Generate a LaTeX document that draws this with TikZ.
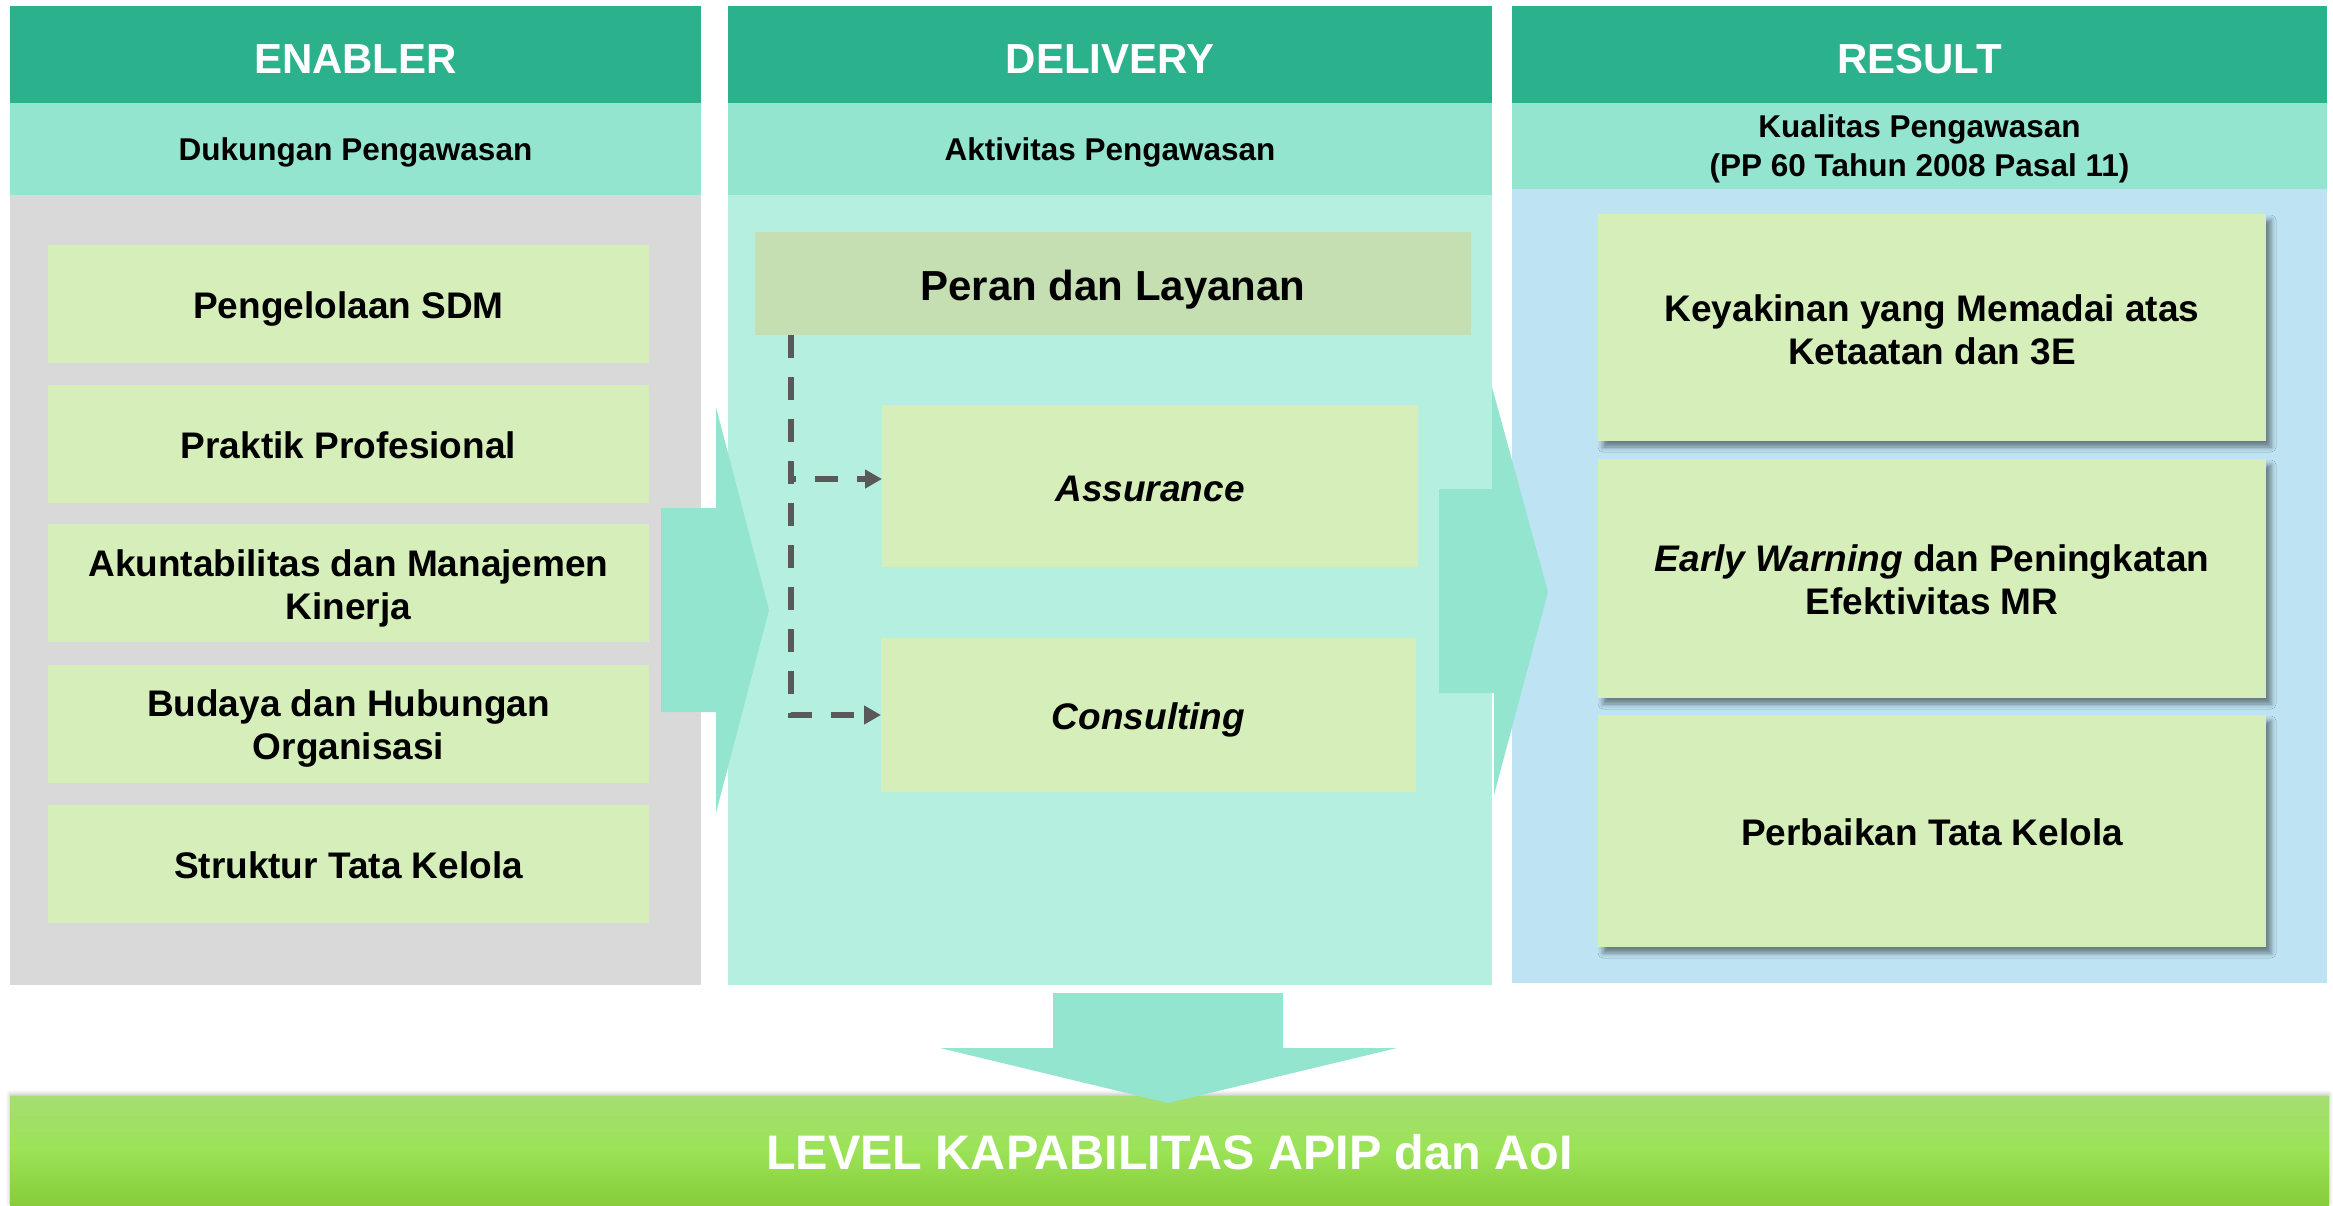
\documentclass[tikz,border=0pt]{standalone}
\usepackage{fontspec}
\setmainfont{Liberation Sans}
\usetikzlibrary{arrows.meta,shadows,shadows.blur,calc}
\definecolor{hdrteal}{HTML}{2BB18B}
\definecolor{subteal}{HTML}{93E5CF}
\definecolor{graybg}{HTML}{D9D9D9}
\definecolor{delbg}{HTML}{B5EFE0}
\definecolor{resbg}{HTML}{BEE3F3}
\definecolor{boxgreen}{HTML}{D6EFBA}
\definecolor{perangreen}{HTML}{C5DFB3}
\definecolor{arrteal}{HTML}{93E5CF}
\definecolor{dashgray}{HTML}{595959}
\definecolor{barTopC}{HTML}{A5DE72}
\definecolor{barMidC}{HTML}{9BE356}
\definecolor{barBotC}{HTML}{86CC3B}
\newcommand\hdrfont{\fontsize{42}{50}\selectfont\bfseries}
\newcommand\subfont{\fontsize{31.5}{39}\selectfont\bfseries}
\newcommand\boxfont{\fontsize{37}{43}\selectfont\bfseries}
\newcommand\peranfont{\fontsize{42}{50}\selectfont\bfseries}
\newcommand\barfont{\fontsize{48.5}{56}\selectfont\bfseries}
% struts that centre a line box like a slide program does (ascent .905em, descent .212em)
\newcommand\pptop[1][0pt]{\rule{0pt}{\dimexpr0.905em+#1*2\relax}}
\newcommand\ppbot{\rule[-0.212em]{0pt}{0.212em}}
\begin{document}
\begin{tikzpicture}[x=1pt,y=-1pt,
  blk/.style={inner sep=0pt,outer sep=0pt,draw=none,align=center},
  hdr/.style={blk,fill=hdrteal,text=white,font=\hdrfont},
  subh/.style={blk,fill=subteal,text=black,font=\subfont},
  lbox/.style={blk,fill=boxgreen,minimum width=601pt,minimum height=118pt,font=\boxfont},
  rbox/.style={blk,fill=boxgreen,minimum width=668pt,font=\boxfont,
     blur shadow={shadow xshift=5pt,shadow yshift=-6pt,shadow blur radius=5pt,shadow opacity=45}},
  dbox/.style={blk,fill=boxgreen,font=\boxfont\itshape},
  dline/.style={draw=dashgray,line width=6pt,dash pattern=on 23pt off 19pt,
     -{Triangle[length=17pt,width=18pt]}},
  blockarrow/.style={fill=arrteal,draw=none}]
\useasboundingbox (0,0) rectangle (2333,1205);
% columns
\node[hdr,minimum width=691pt,minimum height=97pt] (enH) at (355.5,54.5) {\pptop[4pt]ENABLER\ppbot};
\node[subh,minimum width=691pt,minimum height=92pt] (enS) at (355.5,149) {\pptop[1pt]Dukungan Pengawasan\ppbot};
\node[blk,fill=graybg,minimum width=691pt,minimum height=790pt] (enB) at (355.5,590) {};
\node[hdr,minimum width=764pt,minimum height=97pt] (deH) at (1110,54.5) {\pptop[4pt]DELIVERY\ppbot};
\node[subh,minimum width=764pt,minimum height=92pt] (deS) at (1110,149) {\pptop[1pt]Aktivitas Pengawasan\ppbot};
\node[blk,fill=delbg,minimum width=764pt,minimum height=790pt] (deB) at (1110,590) {};
\node[hdr,minimum width=815pt,minimum height=97pt] (reH) at (1919.5,54.5) {\pptop[4pt]RESULT\ppbot};
\node[subh,minimum width=815pt,minimum height=86pt] (reS) at (1919.5,146) {\pptop Kualitas Pengawasan\\(PP 60 Tahun 2008 Pasal 11)\ppbot};
\node[blk,fill=resbg,minimum width=815pt,minimum height=794pt] (reB) at (1919.5,586) {};
% enabler boxes
\node[lbox] (e1) at (348.5,304) {\pptop[2pt]Pengelolaan SDM\ppbot};
\node[lbox] (e2) at (348.5,444) {\pptop[2pt]Praktik Profesional\ppbot};
\node[lbox] (e3) at (348.5,582.5) {\pptop[2.5pt]Akuntabilitas dan Manajemen\\Kinerja\ppbot};
\node[lbox] (e4) at (348.5,724) {\pptop[1.5pt]Budaya dan Hubungan\\Organisasi\ppbot};
\node[lbox] (e5) at (348.5,863.5) {\pptop[2pt]Struktur Tata Kelola\ppbot};
% delivery boxes
\node[blk,fill=perangreen,minimum width=716pt,minimum height=103pt,font=\peranfont] (peran) at (1113,283.5) {\pptop[2pt]Peran dan Layanan\ppbot};
\node[dbox,minimum width=536pt,minimum height=162pt] (assur) at (1150,486) {\pptop[2.5pt]Assurance\ppbot};
\node[dbox,minimum width=535pt,minimum height=154pt] (cons) at (1148.5,715) {\pptop[2pt]Consulting\ppbot};
% result boxes
\node[rbox,minimum height=227pt] (r1) at (1932,327.5) {\pptop[2.5pt]Keyakinan yang Memadai atas\\Ketaatan dan 3E\ppbot};
\node[rbox,minimum height=239pt] (r2) at (1932,578.5) {\pptop[2pt]\textit{Early Warning} dan Peningkatan\\Efektivitas MR\ppbot};
\node[rbox,minimum height=232pt] (r3) at (1932,831) {\pptop[2pt]Perbaikan Tata Kelola\ppbot};
% dashed connectors
\coordinate (d0) at ($(peran.south west)+(36,0)$);
\draw[dline] (d0) |- (cons.west);
\draw[dline] (d0) |- ([yshift=7pt]assur.west);
% block arrows
\fill[blockarrow] (661,508) -- (716,508) -- (716,407) -- (769,610) -- (716,813) -- (716,712) -- (661,712) -- cycle;
\fill[blockarrow] (1439,489) -- (1492,489) -- (1492,387) -- (1548,592) -- (1494,795) -- (1494,693) -- (1439,693) -- cycle;
% bottom bar
\node[blk,minimum width=2319pt,minimum height=109pt,top color=barTopC,bottom color=barBotC,middle color=barMidC,
   text=white,font=\barfont,
   blur shadow={shadow xshift=0pt,shadow yshift=2pt,shadow blur radius=4pt,shadow opacity=25}] (bar) at (1169.5,1150.5) {\pptop[2.5pt]LEVEL KAPABILITAS APIP dan AoI\ppbot};
\fill[blockarrow] (1053,993) -- (1283,993) -- (1283,1048) -- (1397,1048) -- (1168,1103) -- (940,1048) -- (1053,1048) -- cycle;
\end{tikzpicture}
\end{document}
